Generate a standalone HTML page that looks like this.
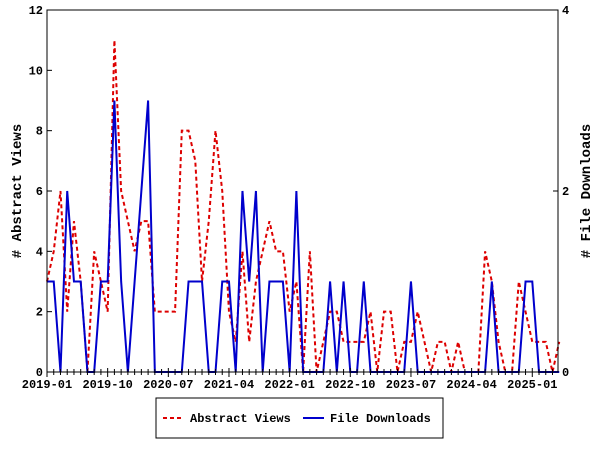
<!DOCTYPE html>
<html><head><meta charset="utf-8"><style>
html,body{margin:0;padding:0;background:#fff;}
svg text{font-family:"Liberation Mono",monospace;font-weight:bold;font-size:12px;fill:#000;}
</style></head><body>
<svg id="chart" width="600" height="450" xmlns="http://www.w3.org/2000/svg">
<rect x="0" y="0" width="600" height="450" fill="#fff"/>
<g id="grid"></g>
<g id="series"></g>
<rect x="47" y="10" width="511" height="362" fill="none" stroke="#000" stroke-width="1"/>
<g id="axes"></g>
<text transform="translate(21,191) rotate(-90)" text-anchor="middle" style="font-size:14px">#  Abstract Views</text>
<text transform="translate(590,191) rotate(-90)" text-anchor="middle" style="font-size:14px">#  File Downloads</text>
<g>
<rect x="156" y="398" width="287" height="40" fill="#fff" stroke="#000" stroke-width="1"/>
<line x1="163" y1="418" x2="183" y2="418" stroke="#dd0000" stroke-width="2" stroke-dasharray="4,3"/>
<text x="190" y="422">Abstract Views</text>
<line x1="303" y1="418" x2="324" y2="418" stroke="#0000cc" stroke-width="2"/>
<text x="330" y="422">File Downloads</text>
</g>
</svg>
<script>
const views = [3,4,6,2,5,3,0,4,3,2, 11,6,5,4,5,5,2,2,2,2, 8,8,7,3,5,8,6,2,1,4, 1,3,4,5,4,4,2,3,0,4, 0,1,2,2,1,1,1,1,2,0, 2,2,0,1,1,2,1,0,1,1, 0,1,0,0,0,4,3,1,0,0, 3,2,1,1,1,0,1];
const downloads = [1,1,0,2,1,1,0,0,1,1, 3,1,0,1,2,3,0,0,0,0, 0,1,1,1,0,0,1,1,0,2, 1,2,0,1,1,1,0,2,0,0, 0,0,1,0,1,0,0,1,0,0, 0,0,0,0,1,0,0,0,0,0, 0,0,0,0,0,0,1,0,0,0, 0,1,1,0,0,0,0];
const xTickLabels = ["2019-01","2019-10","2020-07","2021-04","2022-01","2022-10","2023-07","2024-04","2025-01"];
const leftTicks = [0,2,4,6,8,10,12];
const rightTicks = [0,2,4];
const NS="http://www.w3.org/2000/svg";
const X0=47,X1=558,Y0=372,Y1=10,PER=6.74;
function xs(i){return X0+i*PER;}
function yl(v){return Y0-(v/12)*(Y0-Y1);}
function yr(v){return Y0-(v/4)*(Y0-Y1);}
function mk(tag,attrs,parent){const e=document.createElementNS(NS,tag);for(const k in attrs)e.setAttribute(k,attrs[k]);parent.appendChild(e);return e;}
const axes=document.getElementById('axes'),series=document.getElementById('series');
// x ticks
const nMonths=Math.floor((X1-X0)/PER);
for(let i=0;i<=nMonths;i++){
  const major=i%9===0;
  const t=mk('line',{x1:xs(i),x2:xs(i),y1:Y0-(major?4:3),y2:Y0+(major?5:3),stroke:'#000'},axes);
  
  
}
xTickLabels.forEach((l,k)=>{
  const t=mk('text',{x:xs(k*9),y:Y0+16,'text-anchor':'middle'},axes);
  t.textContent=l;
  
  
});
leftTicks.forEach(v=>{
  const l=mk('line',{x1:X0,x2:X0+5,y1:yl(v),y2:yl(v),stroke:'#000'},axes);
  
  
  const t=mk('text',{x:X0-4,y:yl(v)+4,'text-anchor':'end'},axes);
  t.textContent=v;
  
  
});
rightTicks.forEach(v=>{
  const l=mk('line',{x1:X1-5,x2:X1,y1:yr(v),y2:yr(v),stroke:'#000'},axes);
  
  
  const t=mk('text',{x:X1+4,y:yr(v)+4,'text-anchor':'start'},axes);
  t.textContent=v;
  
  
});
const pv=mk('polyline',{points:views.map((v,i)=>xs(i)+','+yl(v)).join(' '),fill:'none',stroke:'#dd0000','stroke-width':2,'stroke-dasharray':'4,3'},series);


const pd=mk('polyline',{points:downloads.map((v,i)=>xs(i)+','+yr(v)).join(' '),fill:'none',stroke:'#0000cc','stroke-width':2},series);


</script>
</body></html>
